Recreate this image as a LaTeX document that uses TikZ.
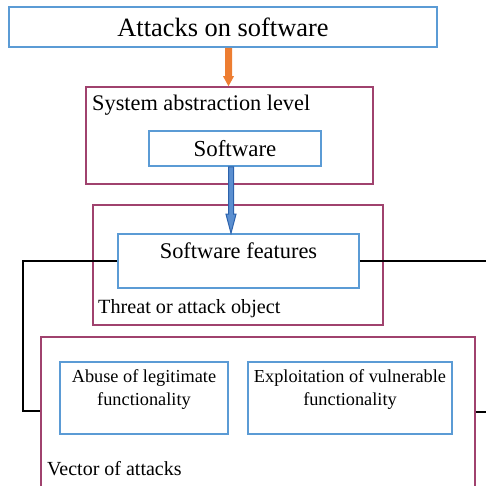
\documentclass[tikz,border=0pt]{standalone}
\usepackage{fontspec}
\setmainfont{Liberation Serif}
\usetikzlibrary{calc}
\definecolor{boxblue}{HTML}{5B9BD5}
\definecolor{framepink}{HTML}{A0426E}
\definecolor{arroworange}{HTML}{ED7D31}
\definecolor{arrowfill}{HTML}{5B8FD0}
\definecolor{arrowdark}{HTML}{2C62AC}
\tikzset{
  bluebox/.style={draw=boxblue, line width=1.6pt, minimum width=#1, inner sep=0pt},
  pinkframe/.style={draw=framepink, line width=1.6pt, inner sep=0pt},
  link/.style={draw=black, line width=1.5pt},
  lbl/.style={inner sep=0pt},
  inner/.style={inner sep=0pt, align=center, font=\fontsize{18.3}{23}\selectfont},
}
\begin{document}
\begin{tikzpicture}[x=1pt,y=-1pt]
\useasboundingbox (0,0) rectangle (486,485);
\begin{scope}
\clip (0,0) rectangle (486,485);
% frames
\node[pinkframe, minimum width=287pt, minimum height=97pt] (sys) at (229.5,135.5) {};
\node[pinkframe, minimum width=290pt, minimum height=120pt] (threat) at (238,265) {};
\node[pinkframe, minimum width=434pt, minimum height=180pt] (vec) at (258,427) {};
% blue boxes
\node[bluebox=428pt, minimum height=40pt, font=\fontsize{26.4}{30}\selectfont] (top) at (223,27) {Attacks on software};
\node[bluebox=172pt, minimum height=35pt, font=\fontsize{22.9}{26}\selectfont] (sw) at (235,148.5) {Software};
\node[bluebox=241pt, minimum height=54pt] (feat) at (238.5,261) {};
\node[bluebox=168pt, minimum height=72pt] (abuse) at (144,398) {};
\node[bluebox=204pt, minimum height=72pt] (expl) at (350,398) {};
% texts
\node[lbl, anchor=base west, font=\fontsize{22.3}{26}\selectfont] (syslbl) at (92,110) {System abstraction level};
\node[lbl, anchor=base west, font=\fontsize{20.2}{24}\selectfont] (threatlbl) at (98,313) {Threat or attack object};
\node[lbl, anchor=base west, font=\fontsize{20}{24}\selectfont] (veclbl) at (47,475) {Vector of attacks};
\node[inner sep=0pt, anchor=base, font=\fontsize{22.4}{26}\selectfont] (featlbl) at (238.5,258) {Software features};
\node[inner] (abuselbl) at (144,389.5) {Abuse of legitimate\\functionality};
\node[inner] (expllbl) at (350,389.5) {Exploitation of vulnerable\\functionality};
% arrows
\coordinate (ot) at ($(sys.north)+(-1,0)$);
\fill[arroworange] ($(top.south)+(2,0)$) -- ($(top.south)+(9,0)$) -- ($(ot)+(3.5,-10)$) -- ($(ot)+(5.5,-10)$) -- (ot) -- ($(ot)+(-5.5,-10)$) -- ($(ot)+(-3.5,-10)$) -- cycle;
\coordinate (bt) at ($(feat.north)+(-7.5,0)$);
\filldraw[fill=arrowfill, draw=arrowdark, line width=1pt, line join=miter] ($(sw.south)+(-6.5,0)$) -- ($(sw.south)+(-1.5,0)$) -- ($(bt)+(2.5,-19)$) -- ($(bt)+(5,-19)$) -- (bt) -- ($(bt)+(-5,-19)$) -- ($(bt)+(-2.5,-19)$) -- cycle;
% connectors
\coordinate (L) at (23,411);
\coordinate (R1) at (486,261);
\coordinate (R2) at (486,412);
\draw[link] (feat.west) -| (L) -- (L -| vec.west);
\draw[link] (feat.east) -- (R1);
\draw[link] ($(abuse.west)+(0,4)$) -- ($(abuse.west)+(0,4)$ -| vec.west);
\draw[link] ($(expl.east)+(0,4)$) -- ($(expl.east)+(0,4)$ -| vec.east);
\draw[link] (R2 -| vec.east) -- (R2);
\end{scope}
\end{tikzpicture}
\end{document}
